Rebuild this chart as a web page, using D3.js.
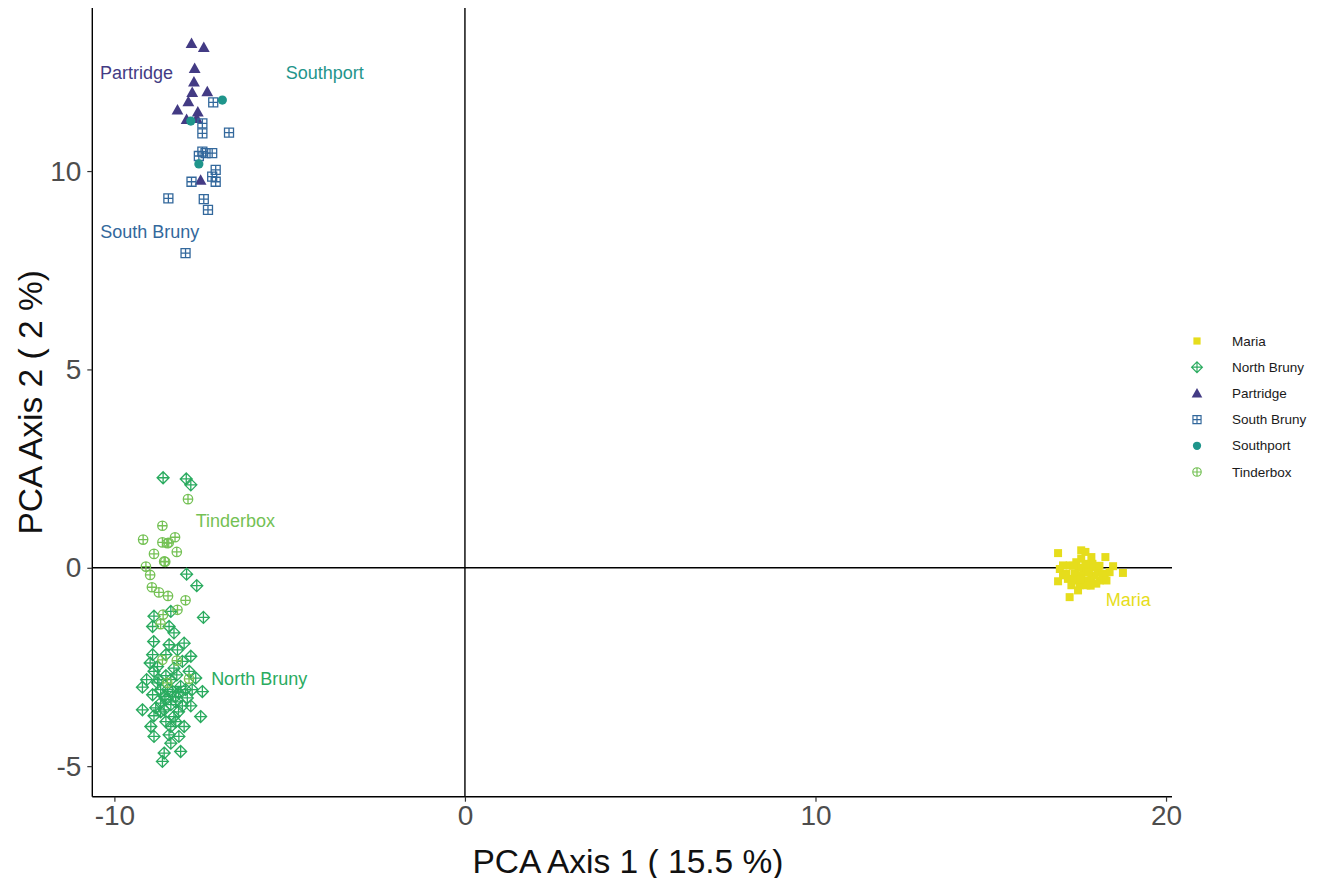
<!DOCTYPE html>
<html>
<head>
<meta charset="utf-8">
<script src="https://cdn.jsdelivr.net/npm/d3@7"></script>
<style>
  html, body { margin: 0; padding: 0; background: #ffffff; }
  svg { display: block; font-family: "Liberation Sans", Arial, sans-serif; }
</style>
</head>
<body>
<svg id="chart" width="1319" height="878"></svg>
<script>
// ---------------- DATA ----------------
const groups = ["Maria", "North Bruny", "Partridge", "South Bruny", "Southport", "Tinderbox"];
const groupColors = ["#e6dd1c", "#2aab5f", "#433b84", "#33689c", "#1f958b", "#74c154"];
const groupShapes = ["squareFilled", "diamondPlus", "triangleFilled", "squarePlus", "circleFilled", "circlePlus"];

const xTicks = [-10, 0, 10, 20];
const yTicks = [-5, 0, 5, 10];
const xTitle = "PCA Axis 1 ( 15.5 %)";
const yTitle = "PCA Axis 2 ( 2 %)";

const mariaPts = [
  [16.92,0.37],[17.58,0.44],[17.70,0.40],[17.87,0.27],[18.27,0.27],[18.49,0.04],
  [17.58,0.23],[17.44,0.14],[17.25,0.06],[17.06,0.06],[16.97,-0.03],[18.77,-0.13],
  [18.06,-0.11],[18.25,-0.15],[18.39,-0.11],[17.77,-0.03],[17.97,0.02],[17.16,-0.15],
  [17.40,-0.15],[17.58,-0.19],[16.92,-0.34],[17.20,-0.28],[17.40,-0.32],[17.68,-0.32],
  [17.87,-0.28],[18.11,-0.32],[18.20,-0.19],[17.30,-0.44],[17.54,-0.44],[17.73,-0.44],
  [18.01,-0.40],[17.25,-0.74],[17.49,-0.57],[18.30,-0.32],[17.97,-0.19],[17.06,-0.19],
  [17.65,-0.08],[17.80,-0.12],[17.50,0.00],[17.35,0.05],[17.90,0.10],[18.10,0.05],
  [17.70,0.10],[17.55,-0.30],[17.85,-0.45]
];
const northBrunyPts = [
  [-8.61,2.27],[-7.95,2.24],[-7.82,2.09],[-7.94,-0.16],[-7.65,-0.45],[-8.87,-1.22],
  [-8.39,-1.10],[-7.46,-1.25],[-8.91,-1.48],[-8.44,-1.48],[-8.30,-1.64],[-8.88,-1.86],
  [-8.44,-1.94],[-8.01,-1.90],[-8.20,-2.07],[-8.91,-2.19],[-8.53,-2.19],[-7.82,-2.23],
  [-8.06,-2.36],[-8.98,-2.40],[-8.77,-2.49],[-8.30,-2.53],[-7.87,-2.61],[-8.87,-2.61],
  [-7.68,-2.78],[-9.20,-3.01],[-8.77,-2.90],[-8.39,-2.82],[-8.11,-2.99],[-7.49,-3.12],
  [-7.78,-3.07],[-8.91,-3.20],[-8.58,-3.24],[-8.25,-3.24],[-7.92,-3.28],[-8.68,-3.41],
  [-8.39,-3.45],[-8.06,-3.48],[-7.82,-3.48],[-9.20,-3.58],[-8.82,-3.53],[-8.58,-3.58],
  [-8.87,-3.73],[-8.30,-3.75],[-7.54,-3.75],[-8.96,-4.00],[-8.39,-4.00],[-8.01,-4.00],
  [-8.87,-4.25],[-8.44,-4.21],[-8.16,-4.25],[-8.39,-4.42],[-8.11,-4.63],[-8.58,-4.67],
  [-8.63,-4.88],[-8.68,-3.07],[-8.48,-3.07],[-8.34,-3.12],[-8.17,-3.15],[-8.53,-3.32],
  [-8.25,-3.38],[-8.73,-2.82],[-7.97,-3.07],[-8.68,-3.63],[-8.17,-3.63],[-8.53,-3.88],
  [-8.25,-3.88],[-9.08,-2.82],[-8.22,-2.70],[-8.53,-2.72]
];
const partridgePts = [
  [-7.80,13.22],[-7.45,13.12],[-7.71,12.59],[-7.73,12.25],[-7.78,11.98],[-7.35,12.00],
  [-7.89,11.75],[-8.20,11.54],[-7.62,11.49],[-7.94,11.30],[-7.65,11.33],[-7.54,9.77]
];
const southBrunyPts = [
  [-7.18,11.73],[-7.49,11.20],[-7.49,10.95],[-6.73,10.97],[-7.49,10.49],[-7.40,10.45],
  [-7.21,10.45],[-7.59,10.38],[-7.11,10.03],[-7.21,9.86],[-7.11,9.73],[-7.80,9.73],
  [-8.46,9.31],[-7.45,9.29],[-7.33,9.02],[-7.97,7.93]
];
const southportPts = [[-6.92,11.79],[-7.82,11.26],[-7.59,10.18]];
const tinderboxPts = [
  [-7.90,1.73],[-8.63,1.06],[-9.18,0.71],[-8.63,0.64],[-8.49,0.62],[-8.27,0.77],
  [-8.87,0.35],[-8.58,0.16],[-8.22,0.40],[-9.10,0.03],[-8.98,-0.18],[-8.93,-0.49],
  [-8.73,-0.62],[-8.47,-0.71],[-7.97,-0.82],[-8.20,-1.06],[-8.61,-1.18],[-8.68,-1.42],
  [-8.63,-2.32],[-8.22,-2.34],[-8.49,-2.90],[-7.87,-2.80],[-8.55,0.15],[-8.45,0.63]
];
const groupPoints = [mariaPts, northBrunyPts, partridgePts, southBrunyPts, southportPts, tinderboxPts];

// group label positions (data units, label centre)
const labelNames = ["Partridge", "Southport", "South Bruny", "Tinderbox", "North Bruny", "Maria"];
const labelX = [-9.37, -4.00, -8.99, -6.55, -5.87, 18.92];
const labelY = [12.47, 12.47, 8.46, 1.18, -2.80, -0.81];

// ---------------- LAYOUT ----------------
const svg = d3.select("#chart");
const panel = { left: 92.3, right: 1172, top: 8, bottom: 796.7 };

const x = d3.scaleLinear().domain([-10.63, 20.17]).range([panel.left, panel.right]);
const y = d3.scaleLinear().domain([-5.77, 14.11]).range([panel.bottom, panel.top]);

function shapePath(shape) {
  switch (shape) {
    case "squareFilled": { const h = 4.0; return `M${-h},${-h}H${h}V${h}H${-h}Z`; }
    case "triangleFilled": { const s = 5.9; return `M0,${-s}L${s*1.0},${s*0.78}L${-s*1.0},${s*0.78}Z`; }
    case "circleFilled": { const r = 4.6; return `M${r},0A${r},${r} 0 1,1 ${-r},0A${r},${r} 0 1,1 ${r},0Z`; }
    case "diamondPlus": { const r = 6.0; return `M0,${-r}L${r},0L0,${r}L${-r},0Z M0,${-r}V${r} M${-r},0H${r}`; }
    case "squarePlus": { const h = 4.5; return `M${-h},${-h}H${h}V${h}H${-h}Z M0,${-h}V${h} M${-h},0H${h}`; }
    case "circlePlus": { const r = 4.7; return `M${r},0A${r},${r} 0 1,1 ${-r},0A${r},${r} 0 1,1 ${r},0Z M0,${-r}V${r} M${-r},0H${r}`; }
  }
}
function isFilled(shape) { return shape.endsWith("Filled"); }

// zero reference lines
svg.append("line")
  .attr("x1", x(0)).attr("x2", x(0)).attr("y1", panel.top).attr("y2", panel.bottom)
  .attr("stroke", "#000").attr("stroke-width", 1.4);
svg.append("line")
  .attr("x1", panel.left).attr("x2", panel.right).attr("y1", y(0)).attr("y2", y(0))
  .attr("stroke", "#000").attr("stroke-width", 1.4);

// points
groups.forEach((g, i) => {
  const shape = groupShapes[i];
  const col = groupColors[i];
  svg.append("g").selectAll("path")
    .data(groupPoints[i])
    .enter().append("path")
    .attr("transform", d => `translate(${x(d[0])},${y(d[1])})`)
    .attr("d", shapePath(shape))
    .attr("fill", isFilled(shape) ? col : "none")
    .attr("stroke", isFilled(shape) ? "none" : col)
    .attr("stroke-width", 1.3);
});

// group labels
labelNames.forEach((name, i) => {
  const gi = groups.indexOf(name);
  svg.append("text")
    .attr("x", x(labelX[i])).attr("y", y(labelY[i]))
    .attr("text-anchor", "middle").attr("dominant-baseline", "central")
    .attr("font-size", 18).attr("fill", groupColors[gi])
    .text(name);
});

// axes
const xAxis = svg.append("g").attr("transform", `translate(0,${panel.bottom})`)
  .call(d3.axisBottom(x).tickValues(xTicks).tickSize(5).tickPadding(3).tickFormat(d3.format("d")));
const yAxis = svg.append("g").attr("transform", `translate(${panel.left},0)`)
  .call(d3.axisLeft(y).tickValues(yTicks).tickSize(5).tickPadding(6).tickFormat(d3.format("d")));
[xAxis, yAxis].forEach(a => {
  a.select(".domain").attr("stroke", "#000").attr("stroke-width", 1.4);
  a.selectAll(".tick line").attr("stroke", "#333").attr("stroke-width", 1.2);
  a.selectAll(".tick text").attr("fill", "#4d4d4d").attr("font-size", 28)
    .attr("font-family", "Liberation Sans, Arial, sans-serif");
});
xAxis.select(".domain").attr("d", `M${panel.left},0H${panel.right}`);
yAxis.select(".domain").attr("d", `M0,${panel.top}V${panel.bottom}`);
yAxis.selectAll(".tick text").text(d => d < 0 ? "-" + Math.abs(d) : d);
xAxis.selectAll(".tick text").text(d => d < 0 ? "-" + Math.abs(d) : d);

// axis titles
svg.append("text")
  .attr("x", 628).attr("y", 861)
  .attr("text-anchor", "middle").attr("dominant-baseline", "central")
  .attr("font-size", 33.5).attr("fill", "#111")
  .text(xTitle);
svg.append("text")
  .attr("transform", `translate(30,${(panel.top + panel.bottom) / 2}) rotate(-90)`)
  .attr("text-anchor", "middle").attr("dominant-baseline", "central")
  .attr("font-size", 33.5).attr("fill", "#111")
  .text(yTitle);

// legend
const legend = svg.append("g").attr("transform", "translate(1197,341)");
groups.forEach((g, i) => {
  const row = legend.append("g").attr("transform", `translate(0,${i * 26.2})`);
  const shape = groupShapes[i];
  row.append("path")
    .attr("d", shapePath(shape))
    .attr("transform", "scale(0.9)")
    .attr("fill", isFilled(shape) ? groupColors[i] : "none")
    .attr("stroke", isFilled(shape) ? "none" : groupColors[i])
    .attr("stroke-width", 1.3);
  row.append("text")
    .attr("x", 35).attr("y", 0)
    .attr("dominant-baseline", "central")
    .attr("font-size", 13.5).attr("fill", "#1a1a1a")
    .text(g);
});
</script>
</body>
</html>
